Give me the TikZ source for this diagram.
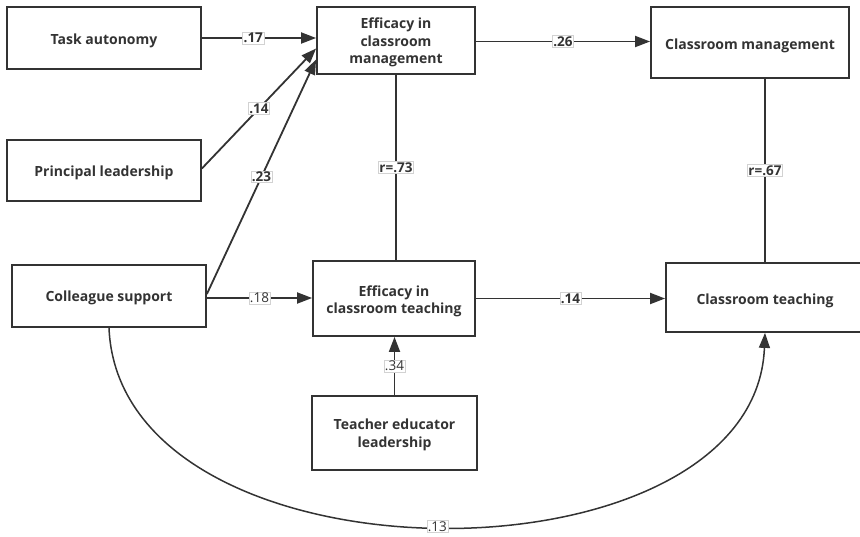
\documentclass[tikz,border=0pt]{standalone}
\usepackage{fontspec}
\setmainfont{Open Sans}
\usetikzlibrary{arrows.meta}
\definecolor{ink}{HTML}{333333}
\begin{document}
\begin{tikzpicture}[x=1pt,y=-1pt,
  box/.style={draw=ink,line width=1.8pt,fill=white,inner sep=0pt},
  txt/.style={align=center,text=ink,font=\fontsize{14}{17.5}\selectfont\bfseries,inner sep=1pt},
  conn/.style={draw=ink,line width=1.8pt},
  arr/.style={conn,-{Triangle[length=15pt,width=11pt]}},
  lab/.style={fill=white,draw=gray!35,line width=0.5pt,inner sep=1pt,text=ink,
    font=\fontsize{13.5}{15}\selectfont\bfseries},
  labl/.style={lab,font=\fontsize{13.5}{15}\selectfont}]
\useasboundingbox (0,0) rectangle (860,536);
\node[box,minimum width=194pt,minimum height=62pt] (ta) at (104,38) {};
\node[box,minimum width=194pt,minimum height=61pt] (pl) at (104,170.5) {};
\node[box,minimum width=194pt,minimum height=62pt] (cs) at (109,296) {};
\node[box,minimum width=158pt,minimum height=67pt] (ecm) at (396,40.5) {};
\node[box,minimum width=162pt,minimum height=75pt] (ect) at (394,298.5) {};
\node[box,minimum width=165pt,minimum height=74pt] (tel) at (394.5,433) {};
\node[box,minimum width=198pt,minimum height=71pt] (cm) at (750,42.5) {};
\node[box,minimum width=198pt,minimum height=69pt] (ct) at (765,297.5) {};
\node[txt] (tat) at ([yshift=-3pt]ta.center) {Task autonomy};
\node[txt] (plt) at ([yshift=-2pt]pl.center) {Principal leadership};
\node[txt] (cst) at ([yshift=-2pt]cs.center) {Colleague support};
\node[txt] (ecmt) at ([yshift=-2pt]ecm.center) {Efficacy in\\classroom\\management};
\node[txt] (ectt) at ([yshift=-3pt]ect.center) {Efficacy in\\classroom teaching};
\node[txt] (telt) at ([yshift=-2pt]tel.center) {Teacher educator\\leadership};
\node[txt] (cmt) at ([yshift=-3pt]cm.center) {Classroom management};
\node[txt] (ctt) at ([yshift=-3pt]ct.center) {Classroom teaching};

\draw[arr] (ta.east) -- node[lab,pos=0.45] {.17} (ta.east -| ecm.west);
\draw[arr] ([yshift=2pt]pl.east) -- node[lab] {.14} ([yshift=-8pt]ecm.west);
\draw[arr] ([yshift=2pt]cs.east) -- node[lab] {.23} ([yshift=-19pt]ecm.west);
\draw[arr] ([yshift=-2pt]cs.east) -- node[labl] {.18} ([yshift=-2pt]cs.east -| ect.west);
\draw[arr] ([yshift=-1pt]ecm.east) -- node[lab] {.26} ([yshift=-1pt]ecm.east -| cm.west);
\draw[conn] (ecm.south) -- node[lab] {r=.73} (ecm.south |- ect.north);
\draw[conn] (ct.north |- cm.south) -- node[lab] {r=.67} (ct.north);
\draw[arr] (ect.east) -- node[lab] {.14} (ect.east -| ct.west);
\draw[arr] (tel.north) -- node[labl] {.34} (tel.north |- ect.south);
\draw[arr,line width=1.5pt] (cs.south) .. controls (120,592) and (755,592) .. node[labl,pos=0.5] {.13} (ct.south);
\end{tikzpicture}
\end{document}
